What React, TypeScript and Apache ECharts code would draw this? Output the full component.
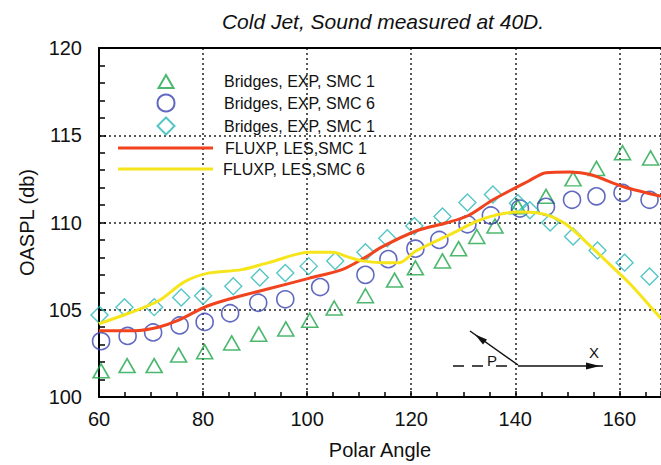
import React, { useEffect, useRef } from "react";
import * as echarts from "echarts";

const titleText = "Cold Jet, Sound measured at 40D.";
const xName = "Polar Angle";
const yName = "OASPL (db)";

const seriesNames = [
  "Bridges, EXP, SMC 1",
  "Bridges, EXP, SMC 6",
  "Bridges, EXP, SMC 1 ",
  "FLUXP, LES,SMC 1",
  "FLUXP, LES,SMC 6",
];

const triX = [60.4, 65.4, 70.6, 75.3, 80.3, 85.5, 90.7, 95.9, 100.5, 105.2, 111.2, 116.8, 120.8, 126.0, 129.1, 132.6, 136.1, 140.5, 145.9, 151.1, 155.6, 160.6, 166.0];
const triY = [101.5, 101.8, 101.8, 102.4, 102.6, 103.1, 103.6, 103.9, 104.4, 105.1, 105.8, 106.7, 107.4, 107.8, 108.5, 109.2, 109.8, 110.9, 111.5, 112.5, 113.1, 114.0, 113.7];

const circX = [60.4, 65.5, 70.4, 75.5, 80.3, 85.2, 90.6, 95.8, 102.5, 111.2, 115.6, 120.8, 125.4, 130.8, 135.3, 140.9, 145.9, 150.9, 155.6, 160.6, 165.8];
const circY = [103.2, 103.5, 103.7, 104.1, 104.3, 104.8, 105.4, 105.6, 106.3, 107.0, 107.9, 108.5, 109.0, 109.9, 110.4, 110.8, 110.9, 111.3, 111.5, 111.7, 111.3];

const diaX = [60.1, 64.9, 70.6, 75.8, 80.0, 85.8, 90.9, 95.8, 100.3, 105.4, 111.2, 115.4, 120.6, 126.0, 130.8, 135.7, 140.5, 142.8, 146.7, 151.1, 155.8, 161.0, 165.8];
const diaY = [104.7, 105.15, 105.15, 105.7, 105.8, 106.35, 106.85, 107.1, 107.5, 107.8, 108.3, 109.1, 109.8, 110.35, 111.15, 111.6, 111.1, 110.7, 110.0, 109.2, 108.4, 107.7, 106.9];

const redX = [60, 66.8, 71.4, 75.3, 80.7, 86.1, 92.6, 100.3, 106.7, 110.6, 114.4, 120.8, 127.0, 131.0, 135.7, 142.4, 145.9, 150.5, 154.4, 160.8, 168];
const redY = [103.8, 103.8, 104.0, 104.4, 105.2, 105.7, 106.2, 106.8, 107.3, 107.9, 108.6, 109.5, 110.0, 110.4, 111.3, 112.35, 112.85, 112.9, 112.75, 112.05, 111.5];

const yelX = [60, 64.8, 71.4, 76.4, 81.0, 87.4, 92.6, 100.5, 104.8, 108.1, 110.6, 114.4, 117.7, 120.8, 127.4, 133.7, 140.5, 144.4, 146.9, 150.2, 154.6, 159.2, 162.3, 166.2, 168];
const yelY = [104.2, 104.7, 105.5, 106.6, 107.1, 107.3, 107.7, 108.3, 108.3, 108.0, 107.8, 107.7, 107.7, 108.35, 109.3, 110.2, 110.6, 110.55, 110.35, 109.8, 108.6, 107.3, 106.4, 105.1, 104.5];

const xMin = 60;
const xMax = 168;
const xStep = 20;
const yMin = 100;
const yMax = 120;
const yStep = 5;

const FONT = "'Liberation Sans', Arial, sans-serif";
const GREEN = "#1ea64a";
const BLUE = "#3a44b0";
const CYAN = "#2bb8b8";
const RED = "#f0431e";
const YELLOW = "#f7e51c";

const zip = (xs: number[], ys: number[]) => xs.map((x, i) => [x, ys[i]]);

export default function App() {
  const ref = useRef<HTMLDivElement>(null);
  useEffect(() => {
    const chart = echarts.init(ref.current!, null, { renderer: "svg" });
    const gridDotted = { show: true, lineStyle: { color: "#222", type: [2, 3] as any, width: 1.5 } };
    const markerLegend = (name: string, icon: string, cy: number, w: number, h: number, textLeft: number) => ({
      data: [{ name, icon }],
      left: 165 - w / 2,
      top: cy - h / 2 - 2,
      itemWidth: w,
      itemHeight: h,
      padding: 0,
      selectedMode: false,
      formatter: (n: string) => n.trim(),
      textStyle: { fontFamily: FONT, fontSize: 16, color: "#111", padding: [0, 0, 0, textLeft - (165 + w / 2) - 5] },
    });
    const lineLegend = (name: string, cy: number, textLeft: number) => ({
      data: [{ name, icon: "rect" }],
      left: 118,
      top: cy - 9.5,
      itemWidth: 95,
      itemHeight: 3,
      padding: 0,
      selectedMode: false,
      formatter: (n: string) => n.trim(),
      textStyle: { fontFamily: FONT, fontSize: 16, color: "#111", padding: [0, 0, 0, textLeft - 213 - 5] },
    });
    const option: any = {
      animation: false,
      backgroundColor: "#fff",
      title: {
        text: titleText,
        left: 378,
        top: 6,
        textAlign: "center",
        textStyle: { fontFamily: FONT, fontSize: 21, fontStyle: "italic", fontWeight: "normal", color: "#111" },
      },
      legend: [
        markerLegend(seriesNames[0], "triangle", 82, 15, 13, 223),
        markerLegend(seriesNames[1], "circle", 104, 17, 17, 223),
        markerLegend(seriesNames[2], "diamond", 127, 17, 17, 223),
        lineLegend(seriesNames[3], 149.5, 225),
        lineLegend(seriesNames[4], 170.5, 223),
      ],
      grid: { left: 99, right: 0, top: 48, bottom: 67 },
      xAxis: [
        {
          type: "value",
          min: xMin,
          max: xMax,
          interval: xStep,
          name: xName,
          nameLocation: "middle",
          nameGap: 43,
          nameTextStyle: { fontFamily: FONT, fontSize: 20, color: "#111" },
          axisLine: { show: true, lineStyle: { color: "#000", width: 2 } },
          axisTick: { show: true, inside: true, length: 6, lineStyle: { color: "#000", width: 1.5 } },
          minorTick: { show: true, splitNumber: 4, length: 5, lineStyle: { color: "#000", width: 1.5 } },
          axisLabel: {
            fontFamily: FONT,
            fontSize: 20,
            color: "#111",
            margin: 12,
            showMaxLabel: false,
            formatter: (v: number) => (v % xStep === 0 ? String(v) : ""),
          },
          splitLine: gridDotted,
        },
        {
          type: "value",
          position: "top",
          min: xMin,
          max: xMax,
          interval: xStep,
          axisLine: { show: true, lineStyle: { color: "#000", width: 2 } },
          axisTick: { show: false },
          axisLabel: { show: false },
          splitLine: { show: false },
        },
      ],
      yAxis: {
        type: "value",
        min: yMin,
        max: yMax,
        interval: yStep,
        name: yName,
        nameLocation: "middle",
        nameGap: 62,
        nameRotate: 90,
        nameTextStyle: { fontFamily: FONT, fontSize: 20, color: "#111" },
        axisLine: { show: true, lineStyle: { color: "#000", width: 2 } },
        axisTick: { show: true, inside: true, length: 7, lineStyle: { color: "#000", width: 1.5 } },
        minorTick: { show: true, splitNumber: 5, length: 6, lineStyle: { color: "#000", width: 1.5 } },
        axisLabel: { fontFamily: FONT, fontSize: 20, color: "#111", margin: 17 },
        splitLine: gridDotted,
      },
      series: [
        {
          name: seriesNames[0],
          type: "scatter",
          symbol: "triangle",
          symbolSize: [16, 14],
          itemStyle: { color: "rgba(0,0,0,0)", borderColor: GREEN, borderWidth: 1.6 },
          data: zip(triX, triY),
          z: 3,
        },
        {
          name: seriesNames[1],
          type: "scatter",
          symbol: "circle",
          symbolSize: 17,
          itemStyle: { color: "rgba(0,0,0,0)", borderColor: BLUE, borderWidth: 1.6 },
          data: zip(circX, circY),
          z: 3,
        },
        {
          name: seriesNames[2],
          type: "scatter",
          symbol: "diamond",
          symbolSize: 17,
          itemStyle: { color: "rgba(0,0,0,0)", borderColor: CYAN, borderWidth: 1.4 },
          data: zip(diaX, diaY),
          z: 3,
        },
        {
          name: seriesNames[3],
          type: "line",
          symbol: "none",
          smooth: 0.3,
          lineStyle: { color: RED, width: 3 },
          itemStyle: { color: RED },
          data: zip(redX, redY),
          z: 4,
        },
        {
          name: seriesNames[4],
          type: "line",
          symbol: "none",
          smooth: 0.3,
          lineStyle: { color: YELLOW, width: 3 },
          itemStyle: { color: YELLOW },
          data: zip(yelX, yelY),
          z: 4,
        },
      ],
      graphic: [
        { type: "line", shape: { x1: 470, y1: 331, x2: 518, y2: 365 }, style: { stroke: "#111", lineWidth: 1.5 }, z: 10 },
        { type: "polygon", shape: { points: [[475, 334.5], [487, 339.5], [483, 344.5]] }, style: { fill: "#111" }, z: 10 },
        { type: "line", shape: { x1: 518, y1: 366, x2: 603, y2: 366 }, style: { stroke: "#111", lineWidth: 1.5 }, z: 10 },
        { type: "polygon", shape: { points: [[586, 362.5], [600, 366], [586, 369.5]] }, style: { fill: "#111" }, z: 10 },
        { type: "line", shape: { x1: 453, y1: 366, x2: 486, y2: 366 }, style: { stroke: "#111", lineWidth: 1.5, lineDash: [11, 8] }, z: 10 },
        { type: "line", shape: { x1: 496, y1: 366, x2: 507, y2: 366 }, style: { stroke: "#111", lineWidth: 1.5 }, z: 10 },
        { type: "text", x: 492, y: 360, style: { text: "P", fontFamily: FONT, fontSize: 15, fill: "#111", align: "center", verticalAlign: "middle" }, z: 10 },
        { type: "text", x: 594, y: 352, style: { text: "X", fontFamily: FONT, fontSize: 15, fill: "#111", align: "center", verticalAlign: "middle" }, z: 10 },
      ],
    };
    chart.setOption(option);
    return () => chart.dispose();
  }, []);
  return (
    <div
      ref={ref}
      style={{ position: "fixed", left: 0, top: 0, width: 661, height: 465, background: "#fff" }}
    />
  );
}
